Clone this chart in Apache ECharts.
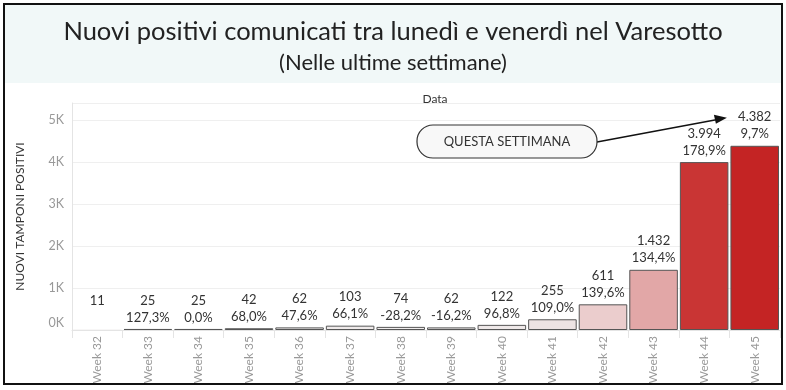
<!DOCTYPE html>
<html><head><meta charset="utf-8">
<script src="https://cdn.jsdelivr.net/npm/echarts@6/dist/echarts.min.js"></script>
<style>
html,body{margin:0;padding:0;background:#fff;}
#frame{position:absolute;left:3px;top:3px;width:776px;height:378px;border:2px solid #111;}
#band{position:absolute;left:5px;top:5px;width:776px;height:78px;background:#f1f8f8;}
#chart{position:absolute;left:0;top:0;width:786px;height:390px;}
</style></head>
<body>
<div id="band"></div>
<div id="chart"></div>
<div id="frame"></div>
<script>
var categories = ['Week 32','Week 33','Week 34','Week 35','Week 36','Week 37','Week 38','Week 39','Week 40','Week 41','Week 42','Week 43','Week 44','Week 45'];
var positives = [11,25,25,42,62,103,74,62,122,255,611,1432,3994,4382];
var pctChange = [null,'127,3%','0,0%','68,0%','47,6%','66,1%','-28,2%','-16,2%','96,8%','109,0%','139,6%','134,4%','178,9%','9,7%'];
var yTicks = [0,1000,2000,3000,4000,5000];

var colorStops = [[0,'#f0efef'],[255,'#ede3e3'],[611,'#ebcdcd'],[1432,'#e2a7a7'],[3994,'#c93534'],[4382,'#c42424']];
function hex(c){return [parseInt(c.substr(1,2),16),parseInt(c.substr(3,2),16),parseInt(c.substr(5,2),16)];}
function colorFor(v){
  for (var i=1;i<colorStops.length;i++){
    if (v<=colorStops[i][0]){
      var a=colorStops[i-1],b=colorStops[i],t=(v-a[0])/(b[0]-a[0]);
      var ca=hex(a[1]),cb=hex(b[1]);
      return 'rgb('+ca.map(function(x,k){return Math.round(x+(cb[k]-x)*t);}).join(',')+')';
    }
  }
  return colorStops[colorStops.length-1][1];
}
function fmtIt(n){return String(n).replace(/\B(?=(\d{3})+(?!\d))/g,'.');}

var chart = echarts.init(document.getElementById('chart'));
var option = {
  animation:false,
  title:[
    {text:'Nuovi positivi comunicati tra lunedì e venerdì nel Varesotto',left:'center',top:14,
     textStyle:{fontFamily:'Lato',fontSize:25.5,fontWeight:'normal',color:'#222'}},
    {text:'(Nelle ultime settimane)',left:'center',top:47,
     textStyle:{fontFamily:'Lato',fontSize:22,fontWeight:'normal',color:'#222'}},
    {text:'Data',left:430,top:88,textAlign:'center',
     textStyle:{fontFamily:'Lato',fontSize:12,fontWeight:'normal',color:'#333'}}
  ],
  grid:{left:72,right:6,top:103,bottom:60,containLabel:false},
  xAxis:{type:'category',data:categories,
    axisLine:{show:true,lineStyle:{color:'#e4e4e4'}},
    axisTick:{show:true,length:8,lineStyle:{color:'#e4e4e4'}},
    axisLabel:{rotate:90,color:'#999',fontFamily:'Lato',fontSize:12,margin:6}},
  yAxis:{type:'value',min:0,max:5400,interval:1000,
    name:'NUOVI TAMPONI POSITIVI',nameLocation:'middle',nameGap:46,
    nameTextStyle:{fontFamily:'Lato',fontSize:12,color:'#333'},
    axisLine:{show:true,lineStyle:{color:'#e4e4e4'}},
    axisTick:{show:false},
    splitLine:{lineStyle:{color:'#efefef'}},
    axisLabel:{color:'#999',fontFamily:'Lato',fontSize:12.5,margin:8,
      formatter:function(v){ if(yTicks.indexOf(v)<0) return ''; return v===0?'{z|0K}':(v/1000)+'K';},
      rich:{z:{color:'#999',fontFamily:'Lato',fontSize:12.5,padding:[0,0,14,0]}}}},
  series:[{type:'bar',barWidth:'96%',
    data:positives.map(function(v,i){return {value:v,itemStyle:{color:colorFor(v),borderWidth:pctChange[i]?1:0}};}),
    itemStyle:{borderColor:'#555',borderWidth:1},
    label:{show:true,position:'top',distance:3,color:'#333',fontFamily:'Lato',fontSize:13,lineHeight:17,
      formatter:function(p){var pc=pctChange[p.dataIndex]; return fmtIt(p.value)+'\n'+(pc||' ');}}
  }]
};
chart.setOption(option);

var tip = chart.convertToPixel({xAxisIndex:0,yAxisIndex:0},['Week 45',5050]);
var bw = chart.getModel().getComponent('xAxis',0).axis.getBandWidth();
var tipX = tip[0]-bw*0.55, tipY = tip[1];
chart.setOption({graphic:[
  {type:'line',shape:{x1:597,y1:142,x2:tipX-8,y2:tipY+1.5},style:{stroke:'#111',lineWidth:1.5},z:100},
  {type:'polygon',shape:{points:[[tipX,tipY],[tipX-13,tipY-3],[tipX-11,tipY+6]]},style:{fill:'#111'},z:100},
  {type:'rect',shape:{x:417,y:125,width:180,height:33,r:16},style:{fill:'#f8f8f8',stroke:'#333',lineWidth:1.2},z:100},
  {type:'text',x:507,y:142,style:{text:'QUESTA SETTIMANA',align:'center',verticalAlign:'middle',fontFamily:'Lato',fontSize:13,fill:'#333'},z:101}
]});
</script>
</body></html>
